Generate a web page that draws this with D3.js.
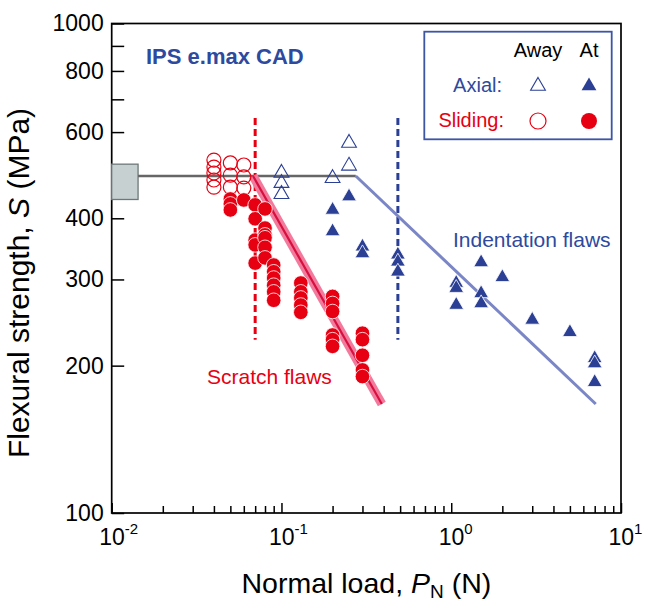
<!DOCTYPE html>
<html>
<head>
<meta charset="utf-8">
<script src="https://cdn.jsdelivr.net/npm/d3@7"></script>
<style>
  body { margin: 0; background: #fff; }
  svg { display: block; font-family: "Liberation Sans", Arial, sans-serif; }
</style>
</head>
<body>
<div id="chart"></div>
<script>
// values, [load P (N), strength S (MPa)]
const slidingAway = [
  [0.04, 526], [0.04, 509], [0.04, 495], [0.04, 479], [0.04, 463],
  [0.05, 519], [0.05, 490], [0.05, 463],
  [0.06, 514], [0.06, 486], [0.06, 461]
];
const slidingAt = [
  [0.05, 438], [0.05, 428], [0.05, 416],
  [0.06, 436],
  [0.07, 426], [0.07, 399], [0.07, 361], [0.07, 353], [0.07, 324],
  [0.08, 418], [0.08, 382], [0.08, 370], [0.08, 365], [0.08, 349], [0.08, 332],
  [0.09, 321], [0.09, 311], [0.09, 302], [0.09, 292], [0.09, 283], [0.09, 272],
  [0.13, 295], [0.13, 283], [0.13, 275], [0.13, 266], [0.13, 257],
  [0.2, 277], [0.2, 268], [0.2, 258], [0.2, 231], [0.2, 226], [0.2, 219],
  [0.3, 233], [0.3, 226], [0.3, 210], [0.3, 196], [0.3, 190]
];
const axialAway = [
  [0.1, 495], [0.1, 472], [0.1, 448],
  [0.2, 483],
  [0.25, 570], [0.25, 512]
];
const axialAt = [
  [0.2, 416], [0.2, 376],
  [0.25, 443],
  [0.3, 350], [0.3, 339],
  [0.485, 337], [0.485, 326], [0.485, 311],
  [1.07, 295], [1.07, 288], [1.07, 266],
  [1.5, 325], [1.5, 281], [1.5, 268],
  [2, 303], [3, 248], [5, 234],
  [7, 207], [7, 202], [7, 185]
];

// reference lines / marks
const plateauS = 488;
const plateauP = [0.0143, 0.274];
const baseBoxP = [0.01, 0.0143];
const baseBoxS = [437, 516];
const scratchFit = [[0.068, 488], [0.39, 167]];
const indentFit = [[0.274, 488], [7.1, 167]];
const thresholdP = [0.07, 0.485];
const thresholdS = [226, 641];

// ticks
const xMajor = [0.01, 0.1, 1, 10];
const xExp = ["-2", "-1", "0", "1"];
const yTicks = [100, 200, 300, 400, 500, 600, 700, 800, 900, 1000];
const yLabels = [100, 200, 300, 400, 600, 800, 1000];

const RED = "#e60012", BLUE = "#2b3f94";

const svg = d3.select("#chart").append("svg")
    .attr("width", 652)
    .attr("height", 610);

const margin = {top: 23.5, right: 31, bottom: 97, left: 111.7},
      width = 652 - margin.left - margin.right,
      height = 610 - margin.top - margin.bottom;

const x = d3.scaleLog().domain([0.01, 10]).range([0, width]),
      y = d3.scaleLog().domain([100, 1000]).range([height, 0]);

const g = svg.append("g")
    .attr("transform", `translate(${margin.left},${margin.top})`);

// minor x ticks 2..9 in each decade
const xMinor = [];
[0.01, 0.1, 1].forEach(d => { for (let k = 2; k < 10; k++) xMinor.push(d * k); });

g.append("g")
    .attr("transform", `translate(0,${height})`)
    .call(d3.axisBottom(x).tickValues(xMinor).tickSize(-7).tickFormat(""))
    .call(a => a.select(".domain").remove());

const xAx = g.append("g")
    .attr("transform", `translate(0,${height})`)
    .call(d3.axisBottom(x).tickValues(xMajor).tickSize(-10).tickPadding(16).tickFormat(""))
    .call(a => a.select(".domain").remove());

xAx.selectAll(".tick text")
    .attr("font-size", 23)
    .attr("font-family", null)
    .attr("fill", "#000")
    .attr("text-anchor", "start")
    .attr("x", -13)
    .each(function(d, i) {
        const t = d3.select(this);
        t.append("tspan").text("10");
        t.append("tspan").attr("dy", -11).attr("font-size", 15).text(xExp[i]);
    });

g.append("g")
    .call(d3.axisLeft(y).tickValues(yTicks).tickSize(-12.5).tickPadding(8)
        .tickFormat(d => yLabels.includes(d) ? d : ""))
    .call(a => a.select(".domain").remove())
    .call(a => a.selectAll(".tick text")
        .attr("font-size", 23).attr("font-family", null).attr("fill", "#000"));

g.selectAll(".tick line").attr("stroke", "#000").attr("stroke-width", 1.5);

// frame
g.append("rect")
    .attr("width", width)
    .attr("height", height)
    .attr("fill", "none")
    .attr("stroke", "#000")
    .attr("stroke-width", 1.7);

// baseline strength box + plateau
g.append("rect")
    .attr("x", x(baseBoxP[0]))
    .attr("y", y(baseBoxS[1]))
    .attr("width", x(baseBoxP[1]) - x(baseBoxP[0]))
    .attr("height", y(baseBoxS[0]) - y(baseBoxS[1]))
    .attr("fill", "#c6d0d0")
    .attr("stroke", "#6e7878")
    .attr("stroke-width", 1.3);

g.append("line")
    .attr("x1", x(plateauP[0])).attr("x2", x(plateauP[1]))
    .attr("y1", y(plateauS)).attr("y2", y(plateauS))
    .attr("stroke", "#666").attr("stroke-width", 2.6);

// threshold dashes
g.selectAll(".thr")
    .data(thresholdP)
    .enter().append("line")
    .attr("x1", d => x(d)).attr("x2", d => x(d))
    .attr("y1", y(thresholdS[1])).attr("y2", y(thresholdS[0]))
    .attr("stroke", (d, i) => i === 0 ? RED : BLUE)
    .attr("stroke-width", 3)
    .attr("stroke-dasharray", "7,4");

const line = d3.line().x(d => x(d[0])).y(d => y(d[1]));

g.append("path").datum(scratchFit)
    .attr("d", line).attr("fill", "none")
    .attr("stroke", "#f27a9c").attr("stroke-width", 9);
g.append("path").datum(scratchFit)
    .attr("d", line).attr("fill", "none")
    .attr("stroke", "#d8103f").attr("stroke-width", 2.2);

g.append("path").datum(indentFit)
    .attr("d", line).attr("fill", "none")
    .attr("stroke", "#7b86c6").attr("stroke-width", 3);

// points
const tri = d3.symbol().type(d3.symbolTriangle).size(95);

g.selectAll(".sa")
    .data(slidingAway)
    .enter().append("circle")
    .attr("cx", d => x(d[0])).attr("cy", d => y(d[1])).attr("r", 7)
    .attr("fill", "none").attr("stroke", RED).attr("stroke-width", 1.2);

g.selectAll(".st")
    .data(slidingAt)
    .enter().append("circle")
    .attr("cx", d => x(d[0])).attr("cy", d => y(d[1])).attr("r", 7.3)
    .attr("fill", RED).attr("stroke", "#fff").attr("stroke-width", 0.8);

g.selectAll(".aa")
    .data(axialAway)
    .enter().append("path")
    .attr("d", tri)
    .attr("transform", d => `translate(${x(d[0])},${y(d[1])})`)
    .attr("fill", "none").attr("stroke", BLUE).attr("stroke-width", 1.1);

g.selectAll(".at")
    .data(axialAt)
    .enter().append("path")
    .attr("d", tri)
    .attr("transform", d => `translate(${x(d[0])},${y(d[1])})`)
    .attr("fill", BLUE).attr("stroke", "#fff").attr("stroke-width", 0.8);

// annotations
svg.append("text")
    .attr("x", 146).attr("y", 64)
    .attr("font-size", 22).attr("font-weight", "bold").attr("fill", "#2d4a9e")
    .text("IPS e.max CAD");

svg.append("text")
    .attr("x", 207).attr("y", 384)
    .attr("font-size", 21).attr("fill", RED)
    .text("Scratch flaws");

svg.append("text")
    .attr("x", 453).attr("y", 247)
    .attr("font-size", 21).attr("fill", "#2d4a9e")
    .text("Indentation flaws");

// legend
const leg = svg.append("g");
leg.append("rect")
    .attr("x", 424.3).attr("y", 31.7)
    .attr("width", 187.4).attr("height", 107.6)
    .attr("fill", "#fff").attr("stroke", "#3d55a5").attr("stroke-width", 1.8);

leg.append("text").attr("x", 538).attr("y", 57).attr("text-anchor", "middle")
    .attr("font-size", 20).text("Away");
leg.append("text").attr("x", 589).attr("y", 57).attr("text-anchor", "middle")
    .attr("font-size", 20).text("At");
leg.append("text").attr("x", 502).attr("y", 92).attr("text-anchor", "end")
    .attr("font-size", 20).attr("fill", "#2d4a9e").text("Axial:");
leg.append("text").attr("x", 504).attr("y", 127).attr("text-anchor", "end")
    .attr("font-size", 20).attr("fill", RED).text("Sliding:");

leg.append("path").attr("d", tri).attr("transform", "translate(538,86)")
    .attr("fill", "none").attr("stroke", BLUE).attr("stroke-width", 1.1);
leg.append("path").attr("d", tri).attr("transform", "translate(589,86)")
    .attr("fill", BLUE);
leg.append("circle").attr("cx", 538).attr("cy", 121).attr("r", 8)
    .attr("fill", "none").attr("stroke", RED).attr("stroke-width", 1.2);
leg.append("circle").attr("cx", 589).attr("cy", 121).attr("r", 8)
    .attr("fill", RED);

// axis titles
const xt = svg.append("text")
    .attr("x", margin.left + width / 2).attr("y", 593)
    .attr("text-anchor", "middle")
    .attr("font-size", 28.5);
xt.append("tspan").text("Normal load, ");
xt.append("tspan").attr("font-style", "italic").text("P");
xt.append("tspan").attr("font-size", 19).attr("dy", 5).text("N");
xt.append("tspan").attr("dy", -5).text(" (N)");

const yt = svg.append("text")
    .attr("transform", "translate(29,283) rotate(-90)")
    .attr("text-anchor", "middle")
    .attr("font-size", 30);
yt.append("tspan").text("Flexural strength, ");
yt.append("tspan").attr("font-style", "italic").text("S");
yt.append("tspan").text(" (MPa)");
</script>
</body>
</html>
